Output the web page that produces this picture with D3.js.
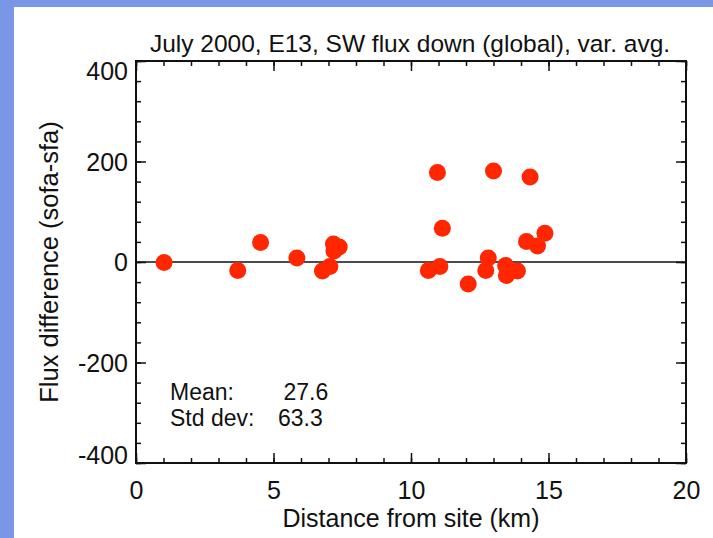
<!DOCTYPE html>
<html>
<head>
<meta charset="utf-8">
<script src="https://cdn.jsdelivr.net/npm/d3@7"></script>
<style>
  html, body { margin: 0; padding: 0; background: #7b96e6; }
  #chart { position: absolute; left: 14px; top: 7px; width: 699px; height: 531px; background: #fff; }
  svg { position: absolute; left: 0; top: 0; }
  text { font-family: "Liberation Sans", Arial, Helvetica, sans-serif; fill: #111; }
</style>
</head>
<body>
<div id="chart"></div>
<script>
// Data: distance from site (km) and flux difference
const distance = [1.02, 3.7, 4.53, 5.85, 6.78, 7.05, 7.18, 7.39, 7.2,
                  10.96, 13.0, 14.33,
                  11.14, 10.63, 11.05, 12.08, 12.81, 12.72, 13.44, 13.47, 13.87, 14.2, 14.6, 14.87];
const fluxDiff = [-1, -17, 39, 8, -18, -9, 36, 30, 22,
                  178, 181, 169,
                  67, -17, -9, -44, 8, -17, -7, -27, -18, 41, 32, 57];

const xTicks = [0, 5, 10, 15, 20];
const yTicks = [-400, -200, 0, 200, 400];
const xMinor = d3.range(0, 21, 1);
const yMinor = d3.range(-400, 401, 40);

const statLabels = ["Mean:", "Std dev:"];
const statValues = ["27.6", "63.3"];

const title = "July 2000, E13, SW flux down (global), var. avg.";
const xLabel = "Distance from site (km)";
const yLabel = "Flux difference (sofa-sfa)";

const W = 713, H = 538;
const margin = { top: 61, right: 27, bottom: 75, left: 136 };

const svg = d3.select("body")
    .append("svg")
    .attr("width", W)
    .attr("height", H);

const width = W - margin.left - margin.right;
const height = H - margin.top - margin.bottom;

const g = svg.append("g")
    .attr("transform", `translate(${margin.left},${margin.top})`);

const x = d3.scaleLinear().domain([0, 20]).range([0, width]);
const y = d3.scaleLinear().domain([-400, 400]).range([height, 0]);

// Minor ticks on all four sides (pointing inwards)
function minor(axis, tr) {
    g.append("g")
        .attr("transform", tr)
        .call(axis.tickFormat("").tickSizeOuter(0))
        .call(s => s.select(".domain").remove());
}
minor(d3.axisBottom(x).tickValues(xMinor).tickSizeInner(-5), `translate(0,${height})`);
minor(d3.axisTop(x).tickValues(xMinor).tickSizeInner(-5), "translate(0,0)");
minor(d3.axisLeft(y).tickValues(yMinor).tickSizeInner(-5), "translate(0,0)");
minor(d3.axisRight(y).tickValues(yMinor).tickSizeInner(-5), `translate(${width},0)`);

// Major ticks
const fmt = d => String(d);
g.append("g")
    .attr("transform", `translate(0,${height})`)
    .call(d3.axisBottom(x).tickValues(xTicks).tickSizeInner(-10).tickSizeOuter(0).tickPadding(18).tickFormat(fmt))
    .call(s => s.select(".domain").remove());
g.append("g")
    .call(d3.axisTop(x).tickValues(xTicks).tickSizeInner(-10).tickSizeOuter(0).tickFormat(""))
    .call(s => s.select(".domain").remove());
const yAxisG = g.append("g")
    .call(d3.axisLeft(y).tickValues(yTicks).tickSizeInner(-10).tickSizeOuter(0).tickPadding(8).tickFormat(fmt))
    .call(s => s.select(".domain").remove());
g.append("g")
    .attr("transform", `translate(${width},0)`)
    .call(d3.axisRight(y).tickValues(yTicks).tickSizeInner(-10).tickSizeOuter(0).tickFormat(""))
    .call(s => s.select(".domain").remove());

// end labels sit inside the frame height
yAxisG.selectAll(".tick text")
    .attr("dy", d => d === 400 ? "0.74em" : d === -400 ? "0em" : "0.35em");

g.selectAll(".tick line").attr("stroke", "#111").attr("stroke-width", 1.5);
g.selectAll(".tick text")
    .style("font-size", "25px")
    .style("font-family", "'Liberation Sans', Arial, sans-serif")
    .attr("fill", "#111");

// Frame
g.append("rect")
    .attr("x", 0).attr("y", 0)
    .attr("width", width).attr("height", height)
    .attr("fill", "none")
    .attr("stroke", "#111")
    .attr("stroke-width", 2);

// Zero line
g.append("line")
    .attr("x1", x(0)).attr("x2", x(20))
    .attr("y1", y(0)).attr("y2", y(0))
    .attr("stroke", "#111")
    .attr("stroke-width", 1.5);

// Dots
g.append("g")
    .selectAll("circle")
    .data(distance.map((d, i) => ({ d: d, v: fluxDiff[i] })))
    .enter()
    .append("circle")
    .attr("cx", d => x(d.d))
    .attr("cy", d => y(d.v))
    .attr("r", 8.5)
    .attr("fill", "#ff2600");

// Stats text
g.selectAll(".stat-label")
    .data(statLabels)
    .enter()
    .append("text")
    .attr("x", 34)
    .attr("y", (d, i) => 339 + i * 25.5)
    .style("font-size", "23px")
    .text(d => d);
g.selectAll(".stat-value")
    .data(statValues)
    .enter()
    .append("text")
    .attr("x", (d, i) => i === 0 ? 147.5 : 142)
    .attr("y", (d, i) => 339 + i * 25.5)
    .style("font-size", "23px")
    .text(d => d);

// Title
svg.append("text")
    .attr("x", 410)
    .attr("y", 52)
    .attr("text-anchor", "middle")
    .style("font-size", "24.5px")
    .text(title);

// X label
svg.append("text")
    .attr("x", 411)
    .attr("y", 527)
    .attr("text-anchor", "middle")
    .style("font-size", "25px")
    .text(xLabel);

// Y label
svg.append("text")
    .attr("transform", "translate(58,262) rotate(-90)")
    .attr("text-anchor", "middle")
    .style("font-size", "25.5px")
    .text(yLabel);
</script>
</body>
</html>
